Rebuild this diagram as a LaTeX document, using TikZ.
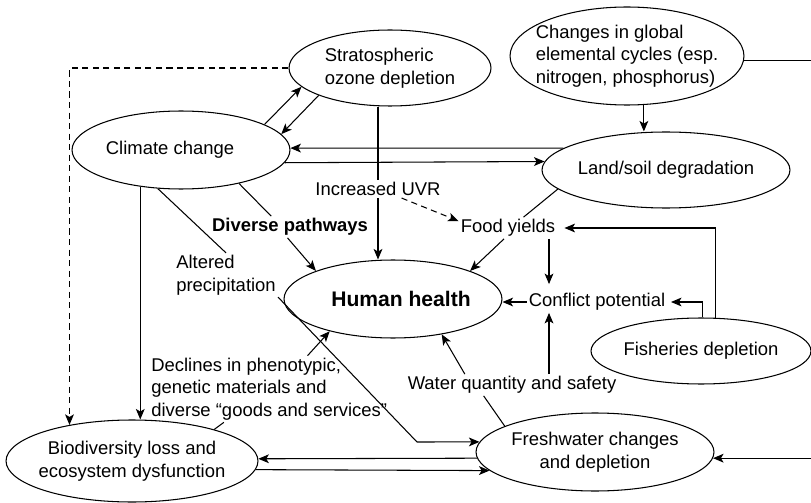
\documentclass[tikz,border=0pt]{standalone}
\usepackage{fontspec}
\setmainfont{Liberation Sans}
\usetikzlibrary{shapes.geometric,arrows.meta}
\tikzset{
  oval/.style={ellipse,draw,inner xsep=-6mm,inner ysep=0pt,align=center,font=\fontsize{10.5}{12.8}\selectfont},
  lbl/.style={inner xsep=1pt,inner ysep=1pt,align=center,font=\fontsize{10.5}{12.8}\selectfont},
  link/.style={-{Stealth[length=6pt,width=5pt,inset=1.5pt]}},
  broken/.style={dash pattern=on 3.5pt off 2.5pt},
}
\begin{document}
\begin{tikzpicture}[x=0.02cm,y=-0.02cm,line width=0.6pt]
  \useasboundingbox (0,0) rectangle (811,503);
  \draw
    (390,68) node[oval,align=left,minimum width=4.04cm,minimum height=1.52cm] (ozone){Stratospheric\\ozone depletion}
    (627,56) node[oval,align=left,minimum width=4.68cm,minimum height=1.96cm] (cycles){Changes in global\\elemental cycles (esp.\\nitrogen, phosphorus)}
    (181,150) node[oval,minimum width=4.36cm,minimum height=1.56cm] (climate){Climate change\hspace*{0.44cm}}
    (666,170) node[oval,minimum width=4.96cm,minimum height=1.52cm] (land){Land/soil degradation}
    (393,299) node[oval,minimum width=4.36cm,minimum height=1.56cm,font=\bfseries\fontsize{12}{14}\selectfont] (health){\hspace*{0.32cm}Human health}
    (701,351) node[oval,minimum width=4.40cm,minimum height=1.32cm] (fish){Fisheries depletion}
    (595,452) node[oval,minimum width=4.76cm,minimum height=1.56cm] (fresh){Freshwater changes\\and depletion}
    (132,461) node[oval,minimum width=5.04cm,minimum height=1.64cm] (biodiv){Biodiversity loss and\\ecosystem dysfunction}
    (378,189) node[lbl] (uvr){Increased UVR}
    (290,227) node[lbl,font=\bfseries\fontsize{10.5}{12.8}\selectfont] (diverse){Diverse pathways}
    (508,228) node[lbl] (food){Food yields}
    (174,275) node[lbl,anchor=west,align=left] (precip){Altered\\precipitation}
    (597,302) node[lbl] (conflict){Conflict potential}
    (512,385) node[lbl] (water){Water quantity and safety}
    (149,389) node[lbl,anchor=west,align=left] (declines){Declines in phenotypic,\\genetic materials and\\diverse “goods and services”};
  \coordinate (ftrack) at (549,0);
  \coordinate (rtrack) at (840,0);
  \coordinate (bend) at (417,442);
  \begin{scope}[link]
    \draw[broken] (ozone.west) -| (biodiv.150);
    \draw (climate.17) to (ozone.192);
    \draw (ozone.201) to (climate.9);
    \draw (land.168) to (climate.1);
    \draw (climate.-7) to (land.176);
    \draw (cycles.-71) to (cycles.-71 |- land.north);
    \draw (cycles.-2) -- (cycles.-2 -| rtrack) -- (rtrack |- fresh.-3) -- (fresh.-3);
    \draw (uvr.south) to (uvr.south |- health.north);
    \draw[broken] (uvr.-21) to (food.172);
    \draw (food.-110) to (health.20);
    \draw[shorten >=4pt] (food.south -| ftrack) to (conflict.north -| ftrack);
    \draw[shorten >=4pt] (fish.67) |- (food.east);
    \draw[shorten >=2pt] (fish.88) |- (conflict.east);
    \draw (conflict.west) to (conflict.west -| health.east);
    \draw (water.north -| ftrack) to (conflict.south -| ftrack);
    \draw (water.167) to (health.-36);
    \draw (climate.222) to (climate.222 |- biodiv.north);
    \draw (precip.south east) -- (bend) -- (fresh.175);
    \draw (diverse.-103) to (health.160);
    \draw (declines.41) to (health.207);
    \draw (fresh.183) to (biodiv.1);
    \draw (biodiv.-4) to (fresh.190);
  \end{scope}
  \begin{scope}[-]
    \draw (ozone.south -| uvr.north) to (uvr.north);
    \draw (land.190) to (food.35);
    \draw (fresh.164) to (water.-159);
    \draw (climate.239) to (precip.north);
    \draw (climate.-30) to (diverse.150);
    \draw (biodiv.21) to (declines);
  \end{scope}
\end{tikzpicture}
\end{document}
